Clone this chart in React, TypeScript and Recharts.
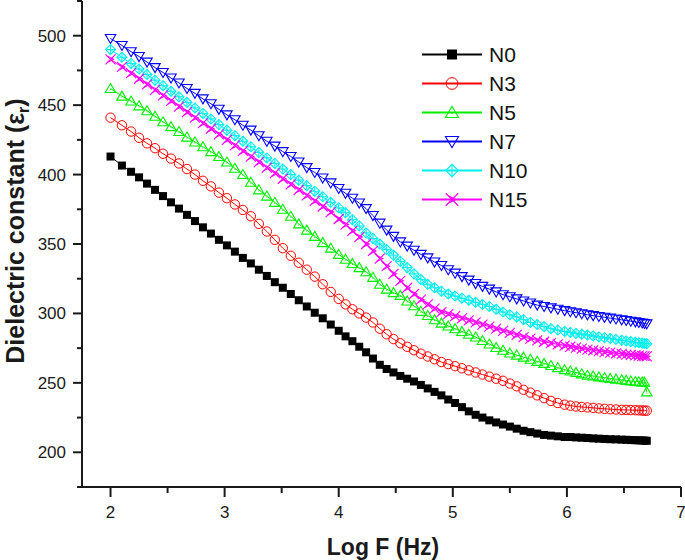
import React from 'react';
import { LineChart, Line, XAxis, YAxis, Legend } from 'recharts';

const logF = [
  2.00, 2.10, 2.18, 2.25, 2.32, 2.39, 2.46, 2.53, 2.60, 2.67, 2.74, 2.81, 2.88, 2.95, 3.02, 3.09, 3.16, 3.23, 3.30, 3.37, 3.44, 3.51, 3.58, 3.65, 3.72, 3.79, 3.86, 3.93,
  4.00, 4.06, 4.12, 4.18, 4.24, 4.30, 4.36, 4.42, 4.48, 4.54, 4.60, 4.66, 4.72, 4.78, 4.84, 4.90, 4.96,
  5.02, 5.08, 5.14, 5.20, 5.26, 5.32, 5.38, 5.44, 5.50, 5.56, 5.62, 5.68, 5.74, 5.80, 5.86, 5.92, 5.98,
  6.03, 6.08, 6.13, 6.18, 6.23, 6.28, 6.33, 6.38, 6.43, 6.48, 6.52, 6.56, 6.60, 6.63, 6.66, 6.68, 6.70,
];

const n0 = [
  413, 406.5, 402, 398, 393.5, 389, 384.5, 380, 375.5, 371, 366.5, 362, 357.5, 353, 349, 344.5, 340, 336, 331.5, 327, 322.5, 318.5, 314, 309.5, 305, 300.5, 296.5, 292,
  287.5, 283.5, 280, 276, 272, 267.5, 263, 260, 257.5, 255, 253, 251, 248.5, 246, 243.5, 241, 238,
  235.5, 232.5, 229.5, 227, 225, 223, 221.5, 220, 218.5, 217, 215.5, 214.5, 213.5, 212.5, 212, 211.5, 211,
  211, 210.7, 210.5, 210.3, 210, 209.8, 209.6, 209.4, 209.3, 209.1, 209, 208.8, 208.7, 208.6, 208.5, 208.4, 208.3,
];

const n3 = [
  441, 435.5, 431, 426.5, 422.5, 419, 415, 411.5, 408, 404, 400, 395.5, 391.5, 387, 383, 378.5, 374.5, 370, 364.5, 359, 353, 347, 341.5, 336.5, 331.5, 326.5, 321, 315.5,
  310.5, 306.5, 303, 300, 297, 293.5, 289, 285, 281.5, 278.5, 276, 273.5, 271, 269, 267, 265, 263.5,
  262, 260.5, 259, 257.5, 256, 254.5, 253, 251.5, 249.5, 247.5, 245, 243, 241, 239, 237, 235.5, 234.3,
  233.6, 233, 232.6, 232.3, 232, 231.6, 231.3, 231, 230.8, 230.6, 230.5, 230.4, 230.3, 230.2, 230.1, 230, 230,
];

const n5 = [
  462, 456.5, 453, 449.5, 446, 442, 438, 434.5, 431, 427, 423.5, 420, 416.5, 413, 409, 404.5, 400, 394.5, 389, 384.5, 380, 375, 370, 364.5, 360, 355.5, 351, 347,
  342.5, 339, 336, 333, 330, 326, 321, 317.5, 315, 313, 309, 305.5, 301.5, 298.5, 295.5, 293, 291,
  289, 287, 285, 283, 280.5, 278, 275.5, 273.5, 271.5, 270, 268.5, 267, 265.5, 264, 262.5, 261, 259.5,
  258.5, 257.5, 256.5, 255.5, 255, 254.3, 253.8, 253.2, 252.7, 252.2, 251.8, 251.4, 251, 250.8, 250.6, 250.5, 243.5,
];

const n7 = [
  498, 493, 488.5, 485, 481, 477, 473.5, 469.5, 466, 462, 458.5, 454.5, 451, 447, 443, 439.5, 435.5, 432, 428, 424, 420.5, 416.5, 413, 409, 405, 401.5, 397.5, 394,
  390, 386.5, 383, 379.5, 375.5, 370.5, 365, 360, 355.5, 351.5, 348.5, 345.5, 342.5, 340, 337, 334.5, 331.5,
  329, 326.5, 324, 321.5, 319.5, 317.5, 315.5, 313.5, 312, 310.5, 309, 307.5, 306, 305, 304, 303, 302,
  301.2, 300.5, 299.8, 299, 298.4, 297.8, 297.2, 296.6, 296, 295.4, 294.9, 294.4, 293.9, 293.5, 293.1, 292.8, 292.5,
];

const n10 = [
  490, 484.5, 480, 476, 472, 468, 464, 460, 456, 452, 448, 444, 440, 436, 432, 428, 424, 420, 416, 412, 408, 404, 400, 396, 392, 388, 384, 380,
  376, 372.5, 367.5, 363, 358, 354, 350, 346, 342, 337.5, 333, 328.5, 324.5, 321, 318.5, 316, 314,
  312.5, 311, 309.5, 308, 306.5, 305, 303, 301, 299, 297.5, 295.5, 293.5, 292, 290.5, 289, 288, 287,
  286.3, 285.6, 285, 284.4, 283.8, 283.1, 282.5, 281.9, 281.3, 280.7, 280.2, 279.7, 279.2, 278.9, 278.6, 278.4, 278.2,
];

const n15 = [
  483, 477.5, 473, 469, 465, 461, 457, 453, 449, 445, 441, 437, 433, 429, 425, 421, 417, 413, 409, 405, 401, 397, 393, 389, 385, 381, 377, 373,
  368, 364, 359.5, 355, 350, 345, 339.5, 334, 328.5, 323.5, 318.5, 314, 310, 306.5, 303.5, 301, 299.5,
  298, 296.5, 295, 293.5, 292, 290.5, 289, 287.5, 286, 284.5, 283, 281.8, 280.6, 279.6, 278.6, 277.7, 276.8,
  276, 275.3, 274.6, 274, 273.4, 272.8, 272.2, 271.7, 271.2, 270.8, 270.4, 270.1, 269.8, 269.6, 269.4, 269.2, 269,
];

const xMajor = [2, 3, 4, 5, 6, 7];
const xMinor = [2.5, 3.5, 4.5, 5.5, 6.5];
const yMajor = [200, 250, 300, 350, 400, 450, 500];
const yMinor = [175, 225, 275, 325, 375, 425, 475, 525];

const FONT = 'Arial, "Liberation Sans", sans-serif';
const AXIS = '#1a1a1a';

const series = [
  { key: 'N0', values: n0, color: '#000000', shape: 'square' },
  { key: 'N3', values: n3, color: '#FF0000', shape: 'circle' },
  { key: 'N5', values: n5, color: '#00EE00', shape: 'up' },
  { key: 'N7', values: n7, color: '#0000FF', shape: 'down' },
  { key: 'N10', values: n10, color: '#00F0F0', shape: 'diamondPlus' },
  { key: 'N15', values: n15, color: '#FF00FF', shape: 'cross' },
];

const data = logF.map((x, i) => {
  const row: any = { x };
  series.forEach((s) => { row[s.key] = s.values[i]; });
  return row;
});

function Marker({ shape, cx, cy, color, s = 1 }: any) {
  if (cx == null || cy == null) return null;
  switch (shape) {
    case 'square':
      return <rect x={cx - 4 * s} y={cy - 4 * s} width={8 * s} height={8 * s} fill={color} />;
    case 'circle':
      return <circle cx={cx} cy={cy} r={4.7 * s} fill="none" stroke={color} strokeWidth={1} />;
    case 'up': {
      const h = 5 * s;
      return (
        <g>
          <path d={`M${cx},${cy - h} L${cx + h * 1.05},${cy + h * 0.8} L${cx - h * 1.05},${cy + h * 0.8} Z`} fill="none" stroke={color} strokeWidth={1.1} />
          <circle cx={cx} cy={cy + 1} r={0.6} fill={color} />
        </g>
      );
    }
    case 'down': {
      const h = 5 * s;
      return <path d={`M${cx},${cy + h} L${cx + h * 1.05},${cy - h * 0.8} L${cx - h * 1.05},${cy - h * 0.8} Z`} fill="none" stroke={color} strokeWidth={1.1} />;
    }
    case 'diamondPlus': {
      const h = 5 * s;
      return (
        <g stroke={color} strokeWidth={1.1} fill="none">
          <path d={`M${cx},${cy - h} L${cx + h},${cy} L${cx},${cy + h} L${cx - h},${cy} Z`} />
          <line x1={cx - h} x2={cx + h} y1={cy} y2={cy} />
          <line x1={cx} x2={cx} y1={cy - h} y2={cy + h} />
        </g>
      );
    }
    case 'cross': {
      const h = 5 * s;
      return (
        <g stroke={color} strokeWidth={1.1} fill="none">
          <line x1={cx - h} x2={cx + h} y1={cy - h} y2={cy + h} />
          <line x1={cx - h} x2={cx + h} y1={cy + h} y2={cy - h} />
          <path d={`M${cx - h * 0.6},${cy - h * 0.6} L${cx + h * 0.6},${cy} L${cx - h * 0.6},${cy + h * 0.6}`} />
        </g>
      );
    }
    default:
      return null;
  }
}

const XTick = (props: any) => {
  const { x, y, payload } = props;
  const v = payload.value;
  const major = xMajor.includes(v);
  return (
    <g>
      <line x1={x} x2={x} y1={y} y2={y + (major ? 10 : 6)} stroke={AXIS} strokeWidth={2} />
      {major && (
        <text x={x} y={y + 31} textAnchor="middle" fontSize={17} fontFamily={FONT} fill={AXIS}>
          {v}
        </text>
      )}
    </g>
  );
};

const YTick = (props: any) => {
  const { x, y, payload } = props;
  const v = payload.value;
  const major = yMajor.includes(v);
  return (
    <g>
      <line x1={x - (major ? 9 : 5)} x2={x} y1={y} y2={y} stroke={AXIS} strokeWidth={2} />
      {major && (
        <text x={x - 16} y={y + 6} textAnchor="end" fontSize={17} fontFamily={FONT} fill={AXIS}>
          {v}
        </text>
      )}
    </g>
  );
};

const XTitle = () => (
  <text x={383} y={555} textAnchor="middle" fontSize={23} fontWeight="bold" fontFamily={FONT} fill={AXIS}>
    Log F (Hz)
  </text>
);

const YTitle = () => (
  <text transform="translate(24,231) rotate(-90)" textAnchor="middle" fontSize={25} fontWeight="bold" fontFamily={FONT} fill={AXIS}>
    Dielectric constant (ε<tspan fontSize={16} dy={5}>r</tspan><tspan dy={-5}>)</tspan>
  </text>
);

const renderLegend = () => (
  <div style={{ fontFamily: FONT }}>
    {series.map((s) => (
      <div key={s.key} style={{ display: 'flex', alignItems: 'center', height: 29 }}>
        <svg width={60} height={29} style={{ display: 'block' }}>
          <line x1={0} x2={60} y1={14.5} y2={14.5} stroke={s.color} strokeWidth={2} />
          <Marker shape={s.shape} cx={30} cy={14.5} color={s.color} s={1.25} />
        </svg>
        <span style={{ marginLeft: 7, fontSize: 21, color: '#111', lineHeight: '29px' }}>{s.key}</span>
      </div>
    ))}
  </div>
);

export default function App() {
  const ticksX = [...xMajor, ...xMinor].sort((a, b) => a - b);
  const ticksY = [...yMajor, ...yMinor].sort((a, b) => a - b);
  return (
    <div style={{ position: 'absolute', left: 0, top: 0, width: 685, height: 560, background: '#fff' }}>
      <LineChart width={685} height={560} data={data} margin={{ top: 1, right: 4, left: 12, bottom: 13 }}>
        <XAxis
          dataKey="x"
          type="number"
          domain={[1.75, 7]}
          allowDataOverflow
          ticks={ticksX}
          interval={0}
          tickSize={0}
          tickMargin={0}
          tickLine={false}
          tick={<XTick />}
          height={60}
          axisLine={{ stroke: AXIS, strokeWidth: 2 }}
          label={<XTitle />}
        />
        <XAxis
          xAxisId="top"
          orientation="top"
          type="number"
          domain={[1.75, 7]}
          allowDataOverflow
          tick={false}
          tickLine={false}
          height={0}
          axisLine={{ stroke: AXIS, strokeWidth: 2 }}
        />
        <YAxis
          type="number"
          domain={[175, 525]}
          allowDataOverflow
          ticks={ticksY}
          interval={0}
          tickSize={0}
          tickMargin={0}
          tickLine={false}
          tick={<YTick />}
          width={70}
          axisLine={{ stroke: AXIS, strokeWidth: 2 }}
          label={<YTitle />}
        />
        <YAxis
          yAxisId="right"
          orientation="right"
          type="number"
          domain={[175, 525]}
          tick={false}
          tickLine={false}
          width={0}
          axisLine={{ stroke: AXIS, strokeWidth: 2 }}
        />
        <Legend
          layout="vertical"
          align="center"
          verticalAlign="middle"
          content={renderLegend}
          wrapperStyle={{ left: 422, top: 40, width: 'auto' }}
        />
        {series.map((s) => (
          <Line
            key={s.key}
            dataKey={s.key}
            type="linear"
            stroke={s.color}
            strokeWidth={1}
            isAnimationActive={false}
            dot={(p: any) => <Marker key={`${s.key}-${p.index}`} shape={s.shape} cx={p.cx} cy={p.cy} color={s.color} />}
            activeDot={false}
          />
        ))}
      </LineChart>
    </div>
  );
}
